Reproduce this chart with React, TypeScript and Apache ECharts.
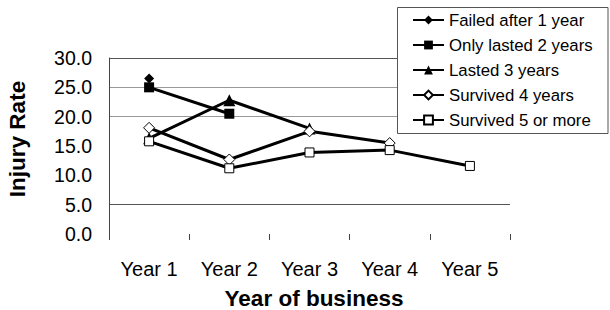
import React, { useEffect, useRef } from "react";
import * as echarts from "echarts";

const categories = ["Year 1", "Year 2", "Year 3", "Year 4", "Year 5"];
const failedAfter1 = [26.5, null, null, null, null];
const lasted2 = [25.0, 20.5, null, null, null];
const lasted3 = [16.3, 22.8, 18.0, null, null];
const survived4 = [18.1, 12.7, 17.5, 15.5, null];
const survived5 = [15.8, 11.2, 13.9, 14.3, 11.6];

const FONT = "'Liberation Sans', Arial, sans-serif";

export default function App() {
  const ref = useRef<HTMLDivElement>(null);
  useEffect(() => {
    if (!ref.current) return;
    const chart = echarts.init(ref.current, null, { renderer: "svg" });
    const line = (name: string, data: (number | null)[], symbol: string, size: number, filled: boolean) => ({
      name,
      type: "line",
      data,
      symbol,
      symbolSize: size,
      showAllSymbol: true,
      connectNulls: false,
      lineStyle: { color: "#000", width: 3 },
      itemStyle: { color: filled ? "#000" : "#fff", borderColor: "#000", borderWidth: filled ? 0 : 1 },
      emphasis: { disabled: true },
    });
    chart.setOption({
      animation: false,
      textStyle: { fontFamily: FONT },
      grid: { left: 109, right: 100, top: 58, bottom: 76 },
      legend: {
        left: 397,
        top: 7,
        orient: "vertical",
        padding: [3, 0, 3, 15],
        itemGap: 5,
        itemWidth: 31,
        itemHeight: 11,
        textStyle: { fontFamily: FONT, fontSize: 16.8, color: "#000", lineHeight: 20 },
        data: ["Failed after 1 year", "Only lasted 2 years", "Lasted 3 years", "Survived 4 years", "Survived 5 or more"],
      },
      xAxis: {
        type: "category",
        data: categories,
        boundaryGap: true,
        axisLine: { show: false },
        axisTick: { show: true, length: 6, lineStyle: { color: "#444" } },
        axisLabel: { fontFamily: FONT, fontSize: 20, color: "#000", margin: 25 },
        splitLine: { show: false },
      },
      yAxis: {
        type: "value",
        min: 0,
        max: 30,
        interval: 5,
        axisLine: { show: true, lineStyle: { color: "#444", width: 1 } },
        axisTick: { show: false },
        axisLabel: {
          fontFamily: FONT,
          fontSize: 19.5,
          color: "#000",
          margin: 17,
          formatter: (v: number) => v.toFixed(1),
        },
        splitLine: {
          show: true,
          lineStyle: {
            width: 1,
            color: ["rgba(0,0,0,0)", "#555", "rgba(0,0,0,0)", "rgba(0,0,0,0)", "#999", "#999", "#555"],
          },
        },
      },
      graphic: [
        {
          type: "rect",
          z: 3,
          shape: { x: 397.5, y: 7.5, width: 210.5, height: 126 },
          style: { fill: "#fff", stroke: "#555", lineWidth: 1 },
        },
        {
          type: "text",
          x: 17.5,
          y: 139,
          rotation: Math.PI / 2,
          style: {
            text: "Injury Rate",
            font: `bold 22.5px ${FONT}`,
            fill: "#000",
            align: "center",
            verticalAlign: "middle",
          },
        },
        {
          type: "text",
          x: 314,
          y: 298,
          style: {
            text: "Year of business",
            font: `bold 22.5px ${FONT}`,
            fill: "#000",
            align: "center",
            verticalAlign: "middle",
          },
        },
      ],
      series: [
        line("Failed after 1 year", failedAfter1, "diamond", 10, true),
        line("Only lasted 2 years", lasted2, "rect", 10, true),
        line("Lasted 3 years", lasted3, "triangle", 12, true),
        line("Survived 4 years", survived4, "diamond", 11, false),
        line("Survived 5 or more", survived5, "rect", 9, false),
      ],
    });
    return () => chart.dispose();
  }, []);
  return <div ref={ref} style={{ position: "absolute", left: 0, top: 0, width: 610, height: 310 }} />;
}
